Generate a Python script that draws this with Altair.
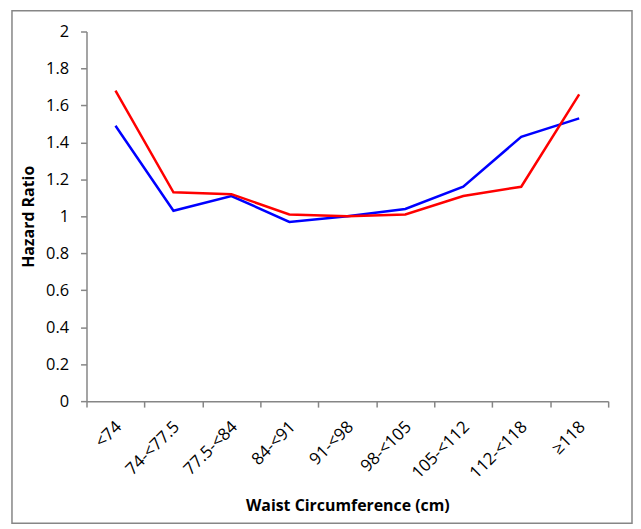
import altair as alt
import pandas as pd

categories = ["<74", "74-<77.5", "77.5-<84", "84-<91", "91-<98",
              "98-<105", "105-<112", "112-<118", "≥118"]
series_blue = [1.49, 1.03, 1.11, 0.97, 1.00, 1.04, 1.16, 1.43, 1.53]
series_red = [1.68, 1.13, 1.12, 1.01, 1.00, 1.01, 1.11, 1.16, 1.66]
y_ticks = [0, 0.2, 0.4, 0.6, 0.8, 1.0, 1.2, 1.4, 1.6, 1.8, 2.0]

rows = []
for c, v in zip(categories, series_blue):
    rows.append({"Waist": c, "HR": v, "Series": "Series 1"})
for c, v in zip(categories, series_red):
    rows.append({"Waist": c, "HR": v, "Series": "Series 2"})
df = pd.DataFrame(rows)

FONT = "Open Sans"
GRAY = "#868686"

lines = alt.Chart(df).mark_line(strokeWidth=2.5).encode(
    x=alt.X("Waist:N", sort=categories, bandPosition=0.5,
            scale=alt.Scale(type="band", paddingInner=0, paddingOuter=0),
            axis=alt.Axis(title="Waist Circumference (cm)", labelAngle=-45,
                          labelAlign="right", labelBaseline="middle",
                          tickBand="extent", domainColor=GRAY, tickColor=GRAY,
                          tickSize=6, domainWidth=1.5, tickWidth=1.5,
                          labelFont=FONT, labelFontSize=17, labelColor="black",
                          labelPadding=17, labelOffset=3,
                          titleFont=FONT, titleFontSize=16, titleFontWeight="bold",
                          titleColor="black", titleY=105, titleBaseline="middle")),
    y=alt.Y("HR:Q", scale=alt.Scale(domain=[0, 2], nice=False, zero=True),
            axis=alt.Axis(title="Hazard Ratio", values=y_ticks, format="~g",
                          grid=False, domainColor=GRAY, tickColor=GRAY,
                          tickSize=6, domainWidth=1.5, tickWidth=1.5,
                          labelFont=FONT, labelFontSize=16.5, labelColor="black",
                          labelPadding=12,
                          titleFont=FONT, titleFontSize=16, titleFontWeight="bold",
                          titleColor="black", titleX=-58, titleBaseline="middle")),
    color=alt.Color("Series:N",
                    scale=alt.Scale(domain=["Series 1", "Series 2"],
                                    range=["#0000FF", "#FF0000"]),
                    legend=None),
)

frame = alt.Chart(alt.Data(values=[{"f": 1}])).mark_rect(
    fill="transparent", stroke=GRAY, strokeWidth=1.5
).encode(
    x=alt.value(-75), x2=alt.value(549), y=alt.value(-21), y2=alt.value(495)
)

chart = alt.layer(frame, lines).properties(
    width=525, height=372,
    autosize=alt.AutoSizeParams(type="none"),
    padding={"left": 79, "top": 22, "right": 25, "bottom": 124},
).configure_view(stroke=None)

chart.save("out.html", embed_options={"renderer": "svg", "actions": False})
